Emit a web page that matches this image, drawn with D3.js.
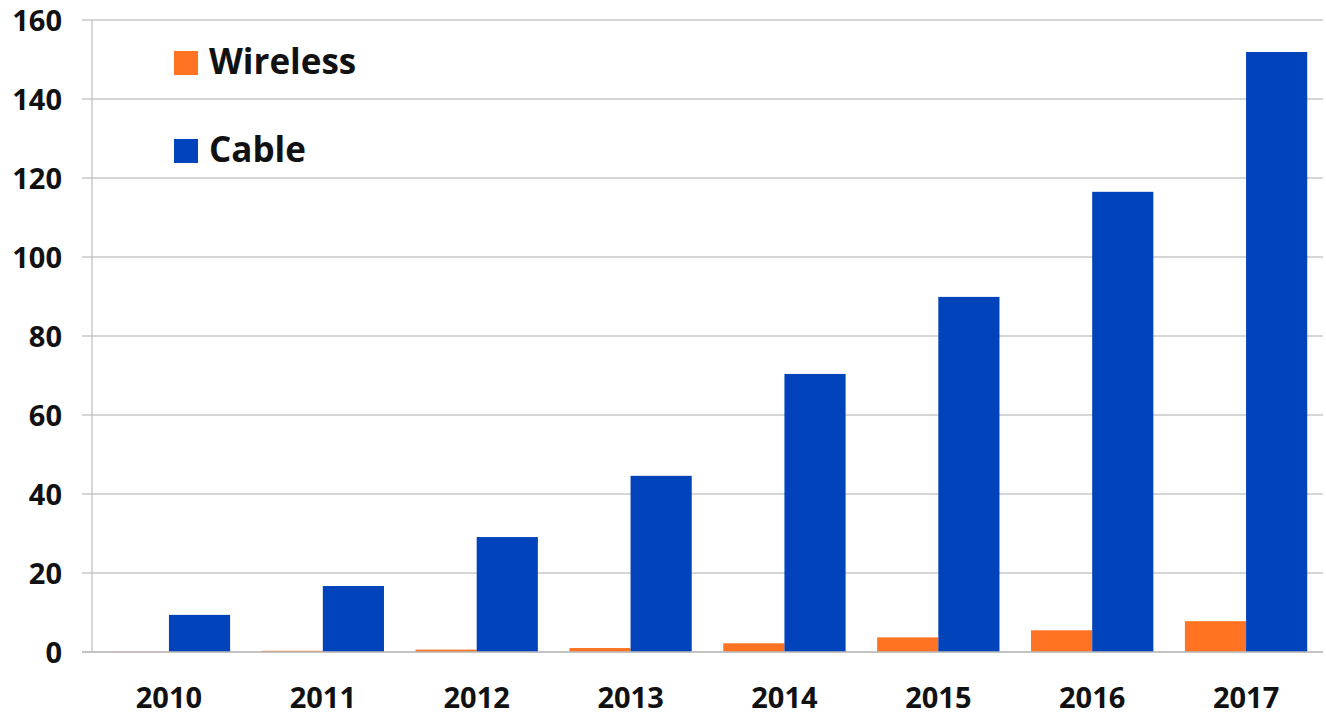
<!DOCTYPE html>
<html>
<head>
<meta charset="utf-8">
<script src="https://cdn.jsdelivr.net/npm/d3@7"></script>
<style>
  html, body { margin: 0; padding: 0; background: #fff; }
  svg text { font-family: "Open Sans", sans-serif; font-weight: bold; fill: #111; }
</style>
</head>
<body>
<svg id="chart"></svg>
<script>
const years = ['2010', '2011', '2012', '2013', '2014', '2015', '2016', '2017'];
const wireless = [0.05, 0.3, 0.6, 1.0, 2.2, 3.7, 5.5, 7.8];
const cable = [9.4, 16.7, 29.1, 44.6, 70.4, 89.9, 116.5, 151.9];
const yTicks = [0, 20, 40, 60, 80, 100, 120, 140, 160];
const seriesNames = ['Wireless', 'Cable'];
const colors = ['#ff7322', '#0043bb'];

const W = 1326, H = 715;
const m = { top: 20, right: 3, bottom: 63, left: 92 };
const cW = W - m.left - m.right;
const cH = H - m.top - m.bottom;

const svg = d3.select('#chart').attr('width', W).attr('height', H);
const g = svg.append('g').attr('transform', `translate(${m.left},${m.top})`);

const x0 = d3.scaleBand().domain(years).range([0, cW]).paddingInner(0.205).paddingOuter(0.1025);
const x1 = d3.scaleBand().domain(seriesNames).range([0, x0.bandwidth()]);
const y = d3.scaleLinear().domain([0, 160]).range([cH, 0]);

// grid
g.append('g').selectAll('line').data(yTicks).join('line')
  .attr('x1', -10).attr('x2', cW)
  .attr('y1', d => y(d)).attr('y2', d => y(d))
  .attr('stroke', '#c8c8c8').attr('stroke-width', 1.5);

// left axis line
g.append('line').attr('x1', 0).attr('x2', 0).attr('y1', 0).attr('y2', cH)
  .attr('stroke', '#bdbdbd').attr('stroke-width', 1.2);

// y labels
const yAxis = g.append('g')
  .call(d3.axisLeft(y).tickValues(yTicks).tickSize(0).tickPadding(30));
yAxis.select('.domain').remove();
yAxis.selectAll('text').style('font-size', '29px').attr('dy', '0.36em');

// bars
const data = years.map((yr, i) => ({ yr, vals: [wireless[i], cable[i]] }));
const grp = g.append('g').selectAll('g').data(data).join('g')
  .attr('transform', d => `translate(${x0(d.yr)},0)`);
grp.selectAll('rect').data(d => d.vals.map((v, j) => ({ key: seriesNames[j], v, j })))
  .join('rect')
  .attr('x', d => x1(d.key))
  .attr('width', x1.bandwidth())
  .attr('y', d => y(d.v))
  .attr('height', d => y(0) - y(d.v))
  .attr('fill', d => colors[d.j]);

// baseline
g.append('line').attr('x1', -10).attr('x2', cW).attr('y1', y(0)).attr('y2', y(0))
  .attr('stroke', '#bdbdbd').attr('stroke-width', 1.5);

// x labels
const xAxis = g.append('g').attr('transform', `translate(0,${cH})`)
  .call(d3.axisBottom(x0).tickSize(0).tickPadding(35));
xAxis.select('.domain').remove();
xAxis.selectAll('text').style('font-size', '29px');

// legend
const leg = svg.append('g').attr('transform', 'translate(174,51)');
seriesNames.forEach((s, i) => {
  const r = leg.append('g').attr('transform', `translate(0,${i * 88})`);
  r.append('rect').attr('width', 24).attr('height', 24).attr('fill', colors[i]);
  r.append('text').attr('x', 35).attr('y', 23).style('font-size', '35px').text(s);
});
</script>
</body>
</html>
